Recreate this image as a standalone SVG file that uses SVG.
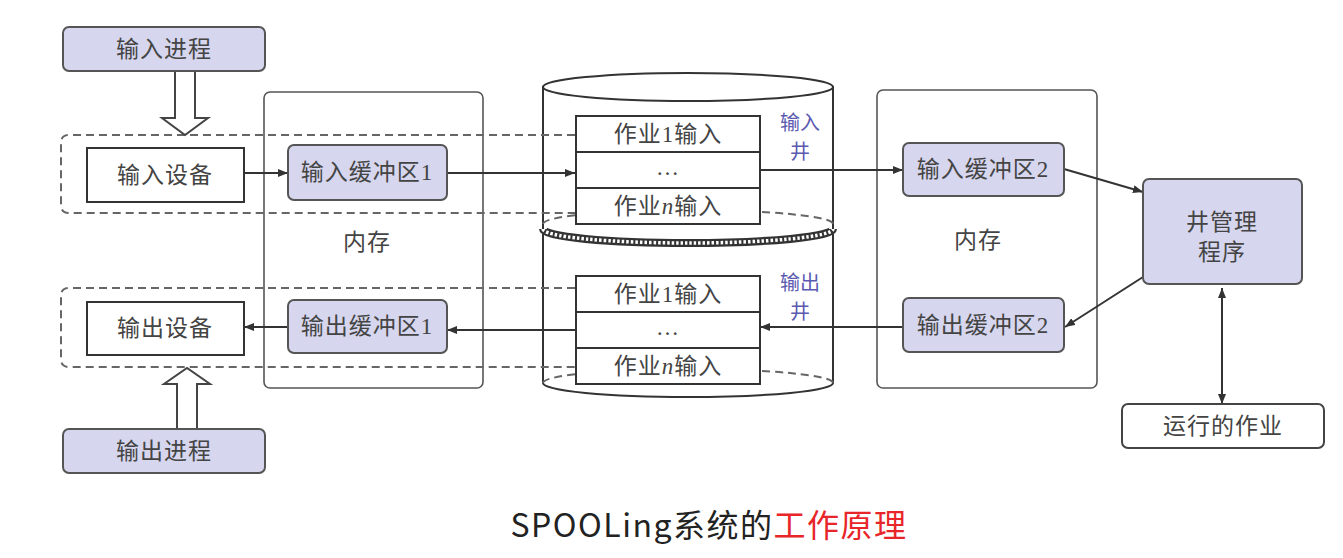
<svg xmlns="http://www.w3.org/2000/svg" width="1343" height="558" viewBox="0 0 1343 558">
<defs>
<marker id="ah" viewBox="0 0 10 8" refX="10" refY="4" markerWidth="10" markerHeight="8" markerUnits="userSpaceOnUse" orient="auto-start-reverse">
<path d="M0,0 L10,4 L0,8 Z" fill="#333"/>
</marker>
<style>
.lav{fill:#d6d6ee;stroke:#555;stroke-width:2}
.wb{fill:#fff;stroke:#333;stroke-width:2}
.mem{fill:none;stroke:#555;stroke-width:1.6}
.dash{fill:none;stroke:#666;stroke-width:2;stroke-dasharray:8 5}
.ln{fill:none;stroke:#333;stroke-width:2}
.t{font-family:"Liberation Serif","Noto Sans CJK SC",serif;font-size:23px;fill:#444;text-anchor:middle;letter-spacing:1px}
.b{font-family:"Noto Sans CJK SC",sans-serif;font-size:20px;fill:#5a5ab0;text-anchor:middle}
.hol{fill:#fff;stroke:#444;stroke-width:2}
</style>
</defs>
<rect width="1343" height="558" fill="#fff"/>

<!-- memory boxes -->
<g id="mem-left"><rect class="mem" x="264" y="92" width="219" height="296" rx="6"/><text class="t" x="367" y="250">内存</text></g>
<g id="mem-right"><rect class="mem" x="877" y="90" width="220" height="298" rx="6"/><text class="t" x="978" y="248">内存</text></g>

<!-- cylinder -->
<g id="cylinder">
<path d="M543,87 V383 A145,14 0 0 0 833,383 V87 Z" fill="#fff" stroke="#333" stroke-width="2"/>
<ellipse cx="688" cy="87" rx="145" ry="14" fill="#fff" stroke="#333" stroke-width="2"/>
<path class="dash" d="M543,224 A145,14 0 0 1 833,224"/>
<path d="M543,229 A145,14 0 0 0 833,229" fill="none" stroke="#333" stroke-width="8"/>
<path d="M543,229 A145,14 0 0 0 833,229" fill="none" stroke="#fff" stroke-width="3.5" stroke-dasharray="2.5 2"/>
<path class="dash" d="M543,383 A145,14 0 0 1 833,383"/>
</g>

<!-- dashed groups -->
<g id="dashed-regions">
<path class="dash" d="M575,135 H69 Q61,135 61,143 V205 Q61,213 69,213 H575"/>
<path class="dash" d="M575,288 H69 Q61,288 61,296 V359 Q61,367 69,367 H575"/>
</g>

<!-- hollow arrows -->
<g id="hollow-arrows">
<path class="hol" d="M175,71 H195 V118 H208 L185,135 L162,118 H175 Z"/>
<path class="hol" d="M177,429 H197 V384 H210 L187,368 L164,384 H177 Z"/>
</g>

<!-- connectors -->
<g id="connectors">
<line class="ln" x1="244" y1="173" x2="288" y2="173" marker-end="url(#ah)"/>
<line class="ln" x1="447" y1="173" x2="575" y2="173" marker-end="url(#ah)"/>
<line class="ln" x1="760" y1="170" x2="903" y2="170" marker-end="url(#ah)"/>
<line class="ln" x1="1064" y1="169" x2="1143" y2="192" marker-end="url(#ah)"/>
<line class="ln" x1="1143" y1="277" x2="1065" y2="327" marker-end="url(#ah)"/>
<line class="ln" x1="1222" y1="288" x2="1222" y2="404" marker-start="url(#ah)" marker-end="url(#ah)"/>
<line class="ln" x1="903" y1="327" x2="760" y2="327" marker-end="url(#ah)"/>
<line class="ln" x1="575" y1="330" x2="447" y2="330" marker-end="url(#ah)"/>
<line class="ln" x1="288" y1="327" x2="244" y2="327" marker-end="url(#ah)"/>
</g>

<!-- nodes -->
<g id="input-process"><rect class="lav" x="63" y="27" width="202" height="44" rx="6"/><text class="t" x="164" y="57">输入进程</text></g>
<g id="output-process"><rect class="lav" x="63" y="429" width="202" height="44" rx="6"/><text class="t" x="164" y="459">输出进程</text></g>
<g id="input-device"><rect class="wb" x="87" y="148" width="157" height="54"/><text class="t" x="165" y="183">输入设备</text></g>
<g id="output-device"><rect class="wb" x="87" y="302" width="157" height="53"/><text class="t" x="165" y="336">输出设备</text></g>
<g id="in-buf1"><rect class="lav" x="288" y="145" width="159" height="55" rx="6"/><text class="t" x="367" y="180">输入缓冲区1</text></g>
<g id="out-buf1"><rect class="lav" x="288" y="300" width="159" height="53" rx="6"/><text class="t" x="367" y="334">输出缓冲区1</text></g>
<g id="in-buf2"><rect class="lav" x="903" y="143" width="161" height="53" rx="6"/><text class="t" x="983" y="177">输入缓冲区2</text></g>
<g id="out-buf2"><rect class="lav" x="903" y="298" width="161" height="54" rx="6"/><text class="t" x="983" y="333">输出缓冲区2</text></g>
<g id="well-manager"><rect class="lav" x="1143" y="179" width="159" height="105" rx="6"/><text class="t" x="1222" y="230">井管理</text><text class="t" x="1222" y="260">程序</text></g>
<g id="running-job"><rect class="wb" x="1122" y="404" width="202" height="44" rx="6" style="stroke:#444"/><text class="t" x="1223" y="434">运行的作业</text></g>

<g id="input-well">
<rect class="wb" x="576" y="116" width="184" height="36"/>
<rect class="wb" x="576" y="152" width="184" height="36"/>
<rect class="wb" x="576" y="188" width="184" height="36"/>
<text class="t" x="668" y="142">作业1输入</text>
<text class="t" x="668" y="175">…</text>
<text class="t" x="668" y="214">作业<tspan font-style="italic">n</tspan>输入</text>
<text class="b" x="800" y="130">输入</text>
<text class="b" x="800" y="159">井</text>
</g>
<g id="output-well">
<rect class="wb" x="576" y="276" width="184" height="36"/>
<rect class="wb" x="576" y="312" width="184" height="36"/>
<rect class="wb" x="576" y="348" width="184" height="36"/>
<text class="t" x="668" y="302">作业1输入</text>
<text class="t" x="668" y="335">…</text>
<text class="t" x="668" y="374">作业<tspan font-style="italic">n</tspan>输入</text>
<text class="b" x="800" y="290">输出</text>
<text class="b" x="800" y="319">井</text>
</g>

<text x="709" y="537" font-family="'Noto Sans CJK SC',sans-serif" font-size="32" letter-spacing="1.5" text-anchor="middle" fill="#222">SPOOLing系统的<tspan fill="#e8262a">工作原理</tspan></text>
</svg>
